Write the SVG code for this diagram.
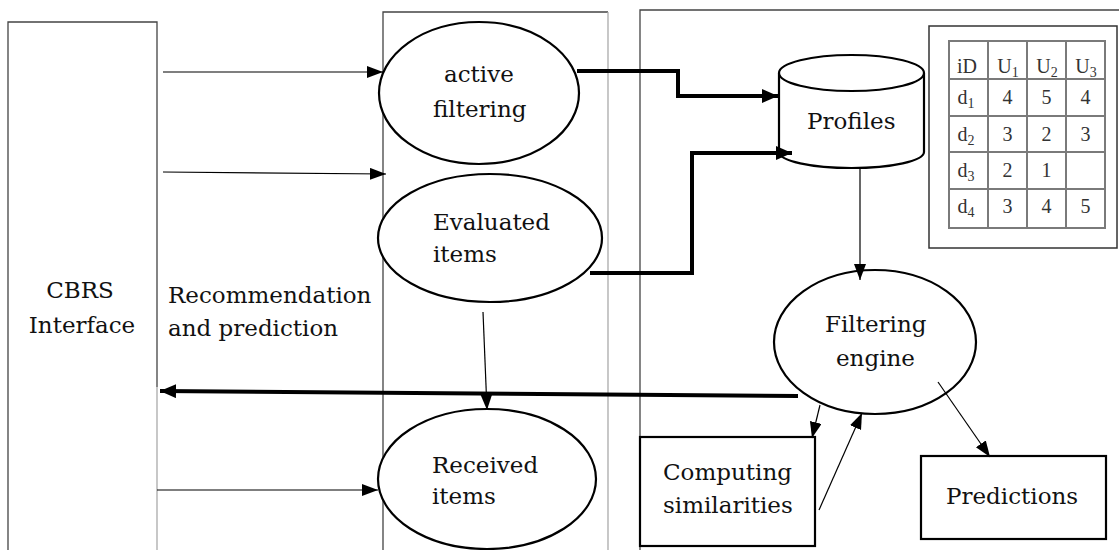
<svg xmlns="http://www.w3.org/2000/svg" width="1119" height="550" viewBox="0 0 1119 550">
<style>
.frame{fill:none;stroke:#444;stroke-width:1.3}
.light{fill:none;stroke:#aaa;stroke-width:1.3}
.shape{fill:#fff;stroke:#000;stroke-width:2.2}
.lbl{font-family:"DejaVu Serif","Liberation Serif",serif;font-size:23px;fill:#111}
.thin{fill:none;stroke:#000;stroke-width:1.2}
.thick{fill:none;stroke:#000;stroke-width:4}
.grid{fill:none;stroke:#7a7a7a;stroke-width:2}
.cell{font-family:"Liberation Serif",serif;font-size:20px;fill:#333;text-anchor:middle}
.sub{font-size:14px}
</style>
<defs>
<marker id="ah" markerUnits="userSpaceOnUse" markerWidth="18" markerHeight="14" refX="16" refY="6" orient="auto">
<path d="M0,0 L16,6 L0,12 Z" fill="#000"/>
</marker>
<marker id="ahb" markerUnits="userSpaceOnUse" markerWidth="18" markerHeight="16" refX="16" refY="7" orient="auto">
<path d="M0,0 L16,7 L0,14 Z" fill="#000"/>
</marker>
</defs>
<rect width="1119" height="550" fill="#fff"/>

<g id="frames">
<path class="frame" d="M8,550 V22 H157 V387"/>
<path class="light" d="M157,387 V550"/>
<path class="frame" d="M383,550 V12 H608"/>
<path class="light" d="M608,12 V550"/>
<path class="frame" d="M640,550 V10 H1119"/>
</g>

<g id="cbrs-interface">
<text class="lbl" x="80" y="298" text-anchor="middle">CBRS</text>
<text class="lbl" x="82" y="333" text-anchor="middle">Interface</text>
</g>

<g id="recommendation-label">
<text class="lbl" x="168" y="303">Recommendation</text>
<text class="lbl" x="168" y="336">and prediction</text>
</g>

<g id="active-filtering">
<ellipse class="shape" cx="479" cy="93" rx="100" ry="71"/>
<text class="lbl" x="444" y="82">active</text>
<text class="lbl" x="433" y="117">filtering</text>
</g>

<g id="evaluated-items">
<ellipse class="shape" cx="490" cy="238" rx="112" ry="64"/>
<text class="lbl" x="433" y="230">Evaluated</text>
<text class="lbl" x="433" y="262">items</text>
</g>

<g id="received-items">
<ellipse class="shape" cx="487" cy="479" rx="109" ry="70"/>
<text class="lbl" x="432" y="473">Received</text>
<text class="lbl" x="432" y="504">items</text>
</g>

<g id="profiles">
<path class="shape" d="M779,73 V152 A72.5,16 0 0 0 924,152 V73"/>
<ellipse class="shape" cx="851.5" cy="73" rx="72.5" ry="18"/>
<text class="lbl" x="807" y="129">Profiles</text>
</g>

<g id="filtering-engine">
<ellipse class="shape" cx="875" cy="342" rx="101" ry="72"/>
<text class="lbl" x="825" y="332">Filtering</text>
<text class="lbl" x="836" y="366">engine</text>
</g>

<g id="computing-similarities">
<rect class="shape" x="640" y="437" width="175" height="109"/>
<text class="lbl" x="663" y="480">Computing</text>
<text class="lbl" x="663" y="513">similarities</text>
</g>

<g id="predictions">
<rect class="shape" x="921" y="456" width="185" height="83"/>
<text class="lbl" x="946" y="504">Predictions</text>
</g>

<g id="rating-table">
<rect x="929" y="26" width="188" height="222" fill="#fff" stroke="#333" stroke-width="1.5"/>
<rect class="grid" x="949" y="41" width="156" height="187"/>
<path class="grid" d="M988,41 V228 M1027,41 V228 M1066,41 V228 M949,79 H1105 M949,116 H1105 M949,152 H1105 M949,189 H1105"/>
<text class="cell" x="967" y="73">iD</text>
<text class="cell" x="1008" y="73">U<tspan class="sub" dy="4">1</tspan></text>
<text class="cell" x="1047" y="73">U<tspan class="sub" dy="4">2</tspan></text>
<text class="cell" x="1086" y="73">U<tspan class="sub" dy="4">3</tspan></text>
<text class="cell" x="966" y="104">d<tspan class="sub" dy="4">1</tspan></text>
<text class="cell" x="1007.5" y="104">4</text>
<text class="cell" x="1046.5" y="104">5</text>
<text class="cell" x="1085.5" y="104">4</text>
<text class="cell" x="966" y="141">d<tspan class="sub" dy="4">2</tspan></text>
<text class="cell" x="1007.5" y="141">3</text>
<text class="cell" x="1046.5" y="141">2</text>
<text class="cell" x="1085.5" y="141">3</text>
<text class="cell" x="966" y="177">d<tspan class="sub" dy="4">3</tspan></text>
<text class="cell" x="1007.5" y="177">2</text>
<text class="cell" x="1046.5" y="177">1</text>
<text class="cell" x="966" y="213">d<tspan class="sub" dy="4">4</tspan></text>
<text class="cell" x="1007.5" y="213">3</text>
<text class="cell" x="1046.5" y="213">4</text>
<text class="cell" x="1085.5" y="213">5</text>
</g>

<g id="connectors">
<path class="thin" d="M163,72 H383" marker-end="url(#ah)"/>
<path class="thin" d="M163,172 L386,174" marker-end="url(#ah)"/>
<path class="thin" d="M157,490 H378" marker-end="url(#ah)"/>
<path class="thick" d="M798,396 L160,391" marker-end="url(#ahb)"/>
<path class="thin" d="M483,312 L487,410" marker-end="url(#ah)"/>
<path class="thick" d="M577,71 H678 V96 H778" marker-end="url(#ahb)"/>
<path class="thick" d="M590,273 H692 V153 H792" marker-end="url(#ahb)"/>
<path class="thin" d="M860,168 V280" marker-end="url(#ah)"/>
<path class="thin" d="M820,405 L812,438" marker-end="url(#ah)"/>
<path class="thin" d="M819,510 L862,413" marker-end="url(#ah)"/>
<path class="thin" d="M938,382 L990,457" marker-end="url(#ah)"/>
</g>
</svg>
